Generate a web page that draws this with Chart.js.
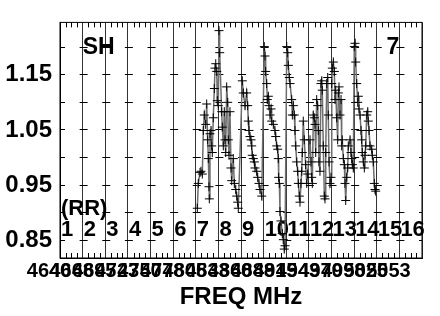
<!DOCTYPE html>
<html>
<head>
<meta charset="utf-8">
<script src="https://cdn.jsdelivr.net/npm/chart.js@4.4.1/dist/chart.umd.min.js"></script>
<style>
html,body{margin:0;padding:0;background:#fff;}
#wrap{width:440px;height:316px;}
</style>
</head>
<body>
<div id="wrap"><canvas id="myChart" width="440" height="316"></canvas></div>
<script>
// measured points, channel 7 .. 14
const freqMHz = [
  4806.9,4808.1,4810.2,4811.4,4813.0,4814.2,4815.4,4817.1,4818.3,4819.5,4820.3,4821.1,4821.5,4822.3,4823.5,4824.4,4825.1,4826.3,4827.6,4828.4,4829.3,4830.5,4831.2,4832.4,4833.3,4834.1,
  4836.5,4837.3,4838.5,4839.7,4840.6,4841.4,4842.6,4843.8,4844.6,4845.4,4846.6,4847.9,4848.7,4850.6,4851.9,4853.6,4854.8,4856.0,4856.7,
  4861.6,4862.8,4864.9,4866.9,4868.1,4868.9,4869.7,4870.9,4872.2,4873.0,4873.7,4875.0,4876.2,4877.0,4879.1,4880.3,4881.9,4883.1,4885.2,
  4888.3,4889.2,4890.0,4891.2,4892.0,4893.2,4894.0,4895.3,4896.5,4897.3,4899.3,4901.3,4902.2,4903.4,4904.6,4905.3,4905.8,4906.6,4907.4,4908.6,4910.2,4911.4,4912.6,4913.5,
  4915.6,4916.8,4917.5,4918.7,4919.6,4921.6,4922.4,4923.6,4924.8,4925.6,4926.5,4927.7,4928.9,4929.7,4930.9,4931.7,4932.9,4933.8,4934.5,4935.7,4936.9,4938.6,4939.9,4941.1,
  4943.9,4945.1,4945.9,4946.7,4947.9,4949.1,4950.0,4950.8,4952.0,4953.2,4954.0,4954.8,4956.0,4957.2,4958.1,4958.8,4960.0,4961.3,4962.1,4963.0,4964.2,4965.4,4966.1,4967.0,4968.2,4969.4,
  4970.3,4971.0,4972.2,4973.4,4974.3,4975.1,4976.3,4977.5,4978.3,4979.1,4980.3,4981.6,4982.4,4983.1,4984.4,4985.6,4986.4,4987.3,4988.5,4989.7,4990.4,4992.5,4993.7,4994.6,4995.3,4996.5,
  4997.7,4998.6,4999.4,5000.6,5001.9,5002.6,5003.4,5004.7,5005.9,5006.7,5007.4,5008.7,5009.9,5010.7,5011.6,5012.8,5014.0,5014.7,5015.6,5016.8,5018.9,5019.6,5020.8,5022.0,5022.9,5023.7
];
const ratio = [
  0.908,0.953,0.973,0.975,0.970,1.049,1.077,1.060,1.097,1.032,0.998,0.947,0.925,1.043,1.049,1.021,1.009,1.072,1.125,1.162,1.170,1.156,1.103,1.094,1.230,1.190,
  1.083,1.055,1.021,1.083,1.032,1.009,1.128,1.100,1.032,1.004,1.083,0.981,0.958,0.998,0.953,0.942,0.930,0.919,0.908,
  1.139,1.117,1.094,1.117,1.094,1.066,1.049,1.038,1.032,1.021,1.004,0.998,0.992,0.981,0.975,0.964,0.953,0.942,0.930,
  1.201,1.184,1.156,1.134,1.105,1.111,1.094,1.077,1.088,1.066,1.060,1.049,1.038,1.021,1.015,0.998,0.964,0.953,0.902,0.885,0.862,0.851,0.834,0.840,
  1.201,1.190,1.167,1.145,1.134,1.105,1.077,1.094,1.077,1.049,1.021,0.992,0.975,0.953,0.930,0.919,0.953,0.975,1.009,1.066,1.032,0.987,0.953,0.970,
  1.032,0.992,0.964,0.953,1.077,1.072,1.060,1.009,1.105,1.094,1.049,0.992,0.975,1.134,1.139,1.122,1.021,0.930,0.925,1.009,1.134,1.145,1.077,0.992,0.953,0.964,
  1.134,1.162,1.173,1.156,1.105,1.122,1.072,1.032,1.117,1.128,1.077,1.105,1.021,1.032,0.998,0.987,0.953,0.922,0.964,0.981,1.021,1.032,1.009,0.998,0.987,0.981,
  1.201,1.207,1.173,1.134,1.100,1.111,1.088,1.077,1.049,1.032,1.009,0.992,0.981,1.004,1.021,1.077,1.083,1.066,1.049,1.021,1.015,1.004,0.992,0.953,0.942,0.939
];
const chanEdges = [4640,4667.5,4695,4722.5,4750,4777.5,4805,4832.5,4860,4887.5,4915,4942.5,4970,4997.5,5025,5052.5,5080];
const xTickLabels = ['4640','4668','4695','4723','4750','4778','4805','4833','4860','4888','4915','4943','4970','4998','5025','5053',''];
const chanNames = ['1','2','3','4','5','6','7','8','9','10','11','12','13','14','15','16'];
const yTicks = [0.85,0.90,0.95,1.00,1.05,1.10,1.15,1.20];
const yTickLabels = ['0.85','','0.95','','1.05','','1.15',''];

const FONT = '"Liberation Sans", Arial, sans-serif';
const pts = freqMHz.map((f,i)=>({x:f,y:ratio[i]}));

const overlay = {
  id:'overlay',
  beforeDatasetsDraw(chart){
    const {ctx, chartArea:a, scales:{x,y}} = chart;
    ctx.save();
    // minor ticks top and bottom
    ctx.strokeStyle='#000'; ctx.lineWidth=1;
    ctx.beginPath();
    for(let i=0;i<chanEdges.length-1;i++){
      const w=(chanEdges[i+1]-chanEdges[i])/4;
      for(let q=1;q<4;q++){
        const px=Math.round(x.getPixelForValue(chanEdges[i]+q*w))+0.5;
        ctx.moveTo(px,a.top); ctx.lineTo(px,a.top+5);
        ctx.moveTo(px,a.bottom); ctx.lineTo(px,a.bottom-5);
      }
    }
    ctx.stroke();
    ctx.strokeRect(a.left,a.top,a.right-a.left,a.bottom-a.top);
    // text
    ctx.fillStyle='#000';
    ctx.textBaseline='middle';
    ctx.textAlign='left';
    ctx.font='bold 22px '+FONT;
    chanNames.forEach((n,i)=>{
      ctx.fillText(n, x.getPixelForValue(chanEdges[i])+1, y.getPixelForValue(0.868));
    });
    ctx.fillText('(RR)', x.getPixelForValue(chanEdges[0])+1, y.getPixelForValue(0.906));
    ctx.font='bold 23px '+FONT;
    ctx.fillText('SH', x.getPixelForValue(chanEdges[1]), y.getPixelForValue(1.199));
    ctx.textAlign='right';
    ctx.fillText('7', x.getPixelForValue(chanEdges[15]), y.getPixelForValue(1.199));
    ctx.restore();
  }
};

new Chart(document.getElementById('myChart'), {
  type:'scatter',
  data:{datasets:[{
    data:pts,
    showLine:true,
    borderColor:'#6e6e6e',
    borderWidth:1.5,
    pointStyle:'cross',
    pointRadius:4.5,
    pointBorderColor:'#000',
    pointBackgroundColor:'#000',
    pointBorderWidth:1
  }]},
  options:{
    responsive:false,
    animation:false,
    devicePixelRatio:1,
    layout:{padding:{top:6,right:18,bottom:4,left:0}},
    plugins:{legend:{display:false},tooltip:{enabled:false}},
    scales:{
      x:{
        type:'linear', min:4640, max:5080,
        afterBuildTicks:s=>{s.ticks=chanEdges.map(v=>({value:v}));},
        afterFit:s=>{s.height=54;},
        ticks:{autoSkip:false,maxRotation:0,minRotation:0,labelOffset:-11,padding:1,color:'#000',
          font:{family:FONT,size:20,weight:'bold'},
          callback:(v,i)=>xTickLabels[i]},
        grid:{color:'#333',lineWidth:1,drawTicks:false},
        border:{color:'#000',width:1},
        title:{display:true,text:'FREQ MHz',color:'#000',font:{family:FONT,size:24,weight:'bold'},padding:{top:0,bottom:0}}
      },
      y:{
        type:'linear', min:0.8178, max:1.2449,
        afterBuildTicks:s=>{s.ticks=yTicks.map(v=>({value:v}));},
        afterFit:s=>{s.width=60;},
        ticks:{padding:8,color:'#000',font:{family:FONT,size:24,weight:'bold'},
          callback:(v,i)=>yTickLabels[i]},
        grid:{color:'#000',lineWidth:1,drawTicks:false},
        border:{color:'#000',width:1,dash:[8,14.625],dashOffset:4}
      }
    }
  },
  plugins:[overlay]
});
</script>
</body>
</html>
